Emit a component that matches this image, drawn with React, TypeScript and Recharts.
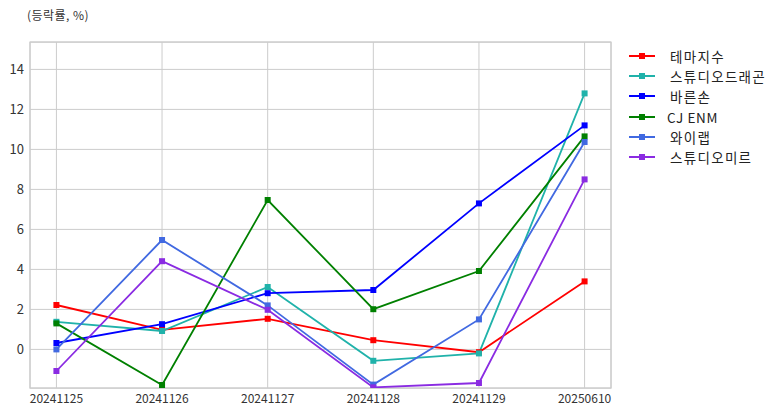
import React from "react";
import { LineChart, Line, XAxis, YAxis, CartesianGrid, ReferenceArea } from "recharts";

const categories = ["20241125", "20241126", "20241127", "20241128", "20241129", "20250610"];
const seriesNames = ["테마지수", "스튜디오드래곤", "바른손", "CJ ENM", "와이랩", "스튜디오미르"];
const seriesColors = ["#FF0000", "#20B2AA", "#0000FF", "#008000", "#4169E1", "#8A2BE2"];
const themeIndex = [2.22, 0.98, 1.53, 0.46, -0.14, 3.4];
const studioDragon = [1.38, 0.92, 3.12, -0.57, -0.2, 12.8];
const barunson = [0.32, 1.26, 2.81, 2.97, 7.3, 11.2];
const cjEnm = [1.3, -1.78, 7.47, 2.01, 3.92, 10.65];
const wylab = [0.0, 5.47, 2.2, -1.76, 1.5, 10.37];
const studioMir = [-1.08, 4.41, 1.98, -1.9, -1.68, 8.5];
const yTicks = [0, 2, 4, 6, 8, 10, 12, 14];
const yDomain = [-1.93, 15.37];
const xDomain = [-0.25, 5.25];

const seriesValues = [themeIndex, studioDragon, barunson, cjEnm, wylab, studioMir];

const data = categories.map((c, i) => {
  const row: any = { idx: i, cat: c };
  seriesNames.forEach((n, k) => {
    row[n] = seriesValues[k][i];
  });
  return row;
});

const FONT = "'Noto Sans CJK KR', 'Noto Sans', sans-serif";

const makeDot = (color: string) => (props: any) => {
  const { cx, cy, index } = props;
  if (cx == null || cy == null) return <g key={index} />;
  return <rect key={index} x={cx - 3} y={cy - 3} width={6} height={6} fill={color} />;
};

const isLatin = (s: string) => /^[\x00-\x7F]+$/.test(s);

const LegendBox = () => (
  <div
    style={{
      position: "absolute",
      left: 628,
      top: 46,
      fontFamily: FONT,
      fontSize: 13.5,
      color: "#222",
    }}
  >
    {seriesNames.map((n, i) => (
      <div key={n} style={{ display: "flex", alignItems: "center", height: 20.2, whiteSpace: "nowrap" }}>
        <svg width={28} height={10} style={{ marginRight: isLatin(n) ? 11 : 14 }}>
          <line x1={1} y1={5} x2={27} y2={5} stroke={seriesColors[i]} strokeWidth={2} />
          <rect x={11} y={2} width={6} height={6} fill={seriesColors[i]} />
        </svg>
        <span style={{ letterSpacing: isLatin(n) ? 0.6 : 1.3 }}>{n}</span>
      </div>
    ))}
  </div>
);

export default function App() {
  return (
    <div style={{ position: "absolute", left: 0, top: 0, width: 782, height: 416, background: "#fff" }}>
      <div
        style={{
          position: "absolute",
          left: 27,
          top: 6,
          fontFamily: FONT,
          fontSize: 12,
          letterSpacing: 0.45,
          color: "#333",
        }}
      >
        (등락률, %)
      </div>
      <LineChart width={782} height={416} data={data} margin={{ top: 42, right: 171, bottom: 0, left: 0 }}>
        <CartesianGrid stroke="#cccccc" strokeWidth={1} vertical={true} horizontal={true} />
        <XAxis
          dataKey="idx"
          type="number"
          domain={xDomain}
          ticks={[0, 1, 2, 3, 4, 5]}
          tickFormatter={(v: number) => categories[v]}
          height={28}
          axisLine={false}
          tickLine={false}
          tickSize={0}
          tickMargin={6}
          interval={0}
          tick={{ fontFamily: FONT, fontSize: 12, fill: "#333" }}
          allowDataOverflow
        />
        <YAxis
          type="number"
          domain={yDomain}
          ticks={yTicks}
          width={30}
          axisLine={false}
          tickLine={false}
          tickSize={0}
          tickMargin={6}
          tick={{ fontFamily: FONT, fontSize: 13, fill: "#333" }}
          allowDataOverflow
        />
        <ReferenceArea
          x1={xDomain[0]}
          x2={xDomain[1]}
          y1={yDomain[0]}
          y2={yDomain[1]}
          fill="none"
          fillOpacity={0}
          stroke="#cccccc"
          strokeWidth={1.25}
          ifOverflow="visible"
        />
        {seriesNames.map((n, i) => (
          <Line
            key={n}
            type="linear"
            dataKey={n}
            stroke={seriesColors[i]}
            strokeWidth={1.8}
            dot={makeDot(seriesColors[i])}
            activeDot={false}
            isAnimationActive={false}
          />
        ))}
      </LineChart>
      <LegendBox />
    </div>
  );
}
